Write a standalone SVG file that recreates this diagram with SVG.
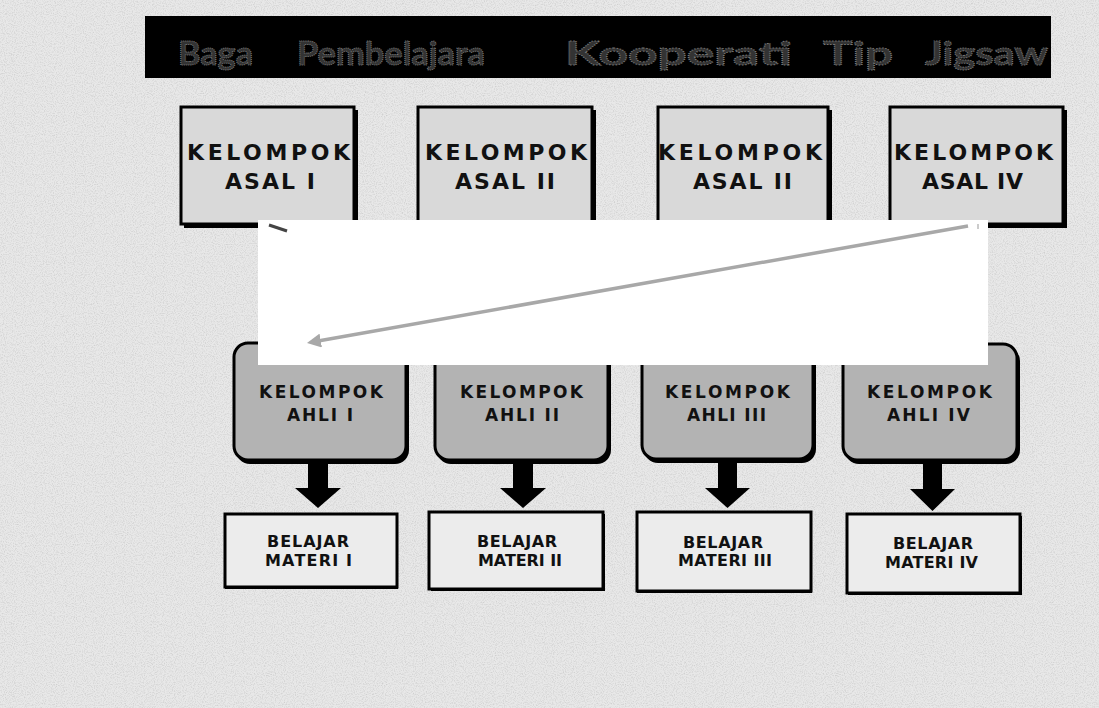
<svg xmlns="http://www.w3.org/2000/svg" width="1099" height="708" viewBox="0 0 1099 708">
<defs>
<filter id="noise" x="0" y="0" width="100%" height="100%">
<feTurbulence type="fractalNoise" baseFrequency="0.9" numOctaves="2" seed="3" result="n"/>
<feColorMatrix in="n" type="matrix" values="0 0 0 0 0.5  0 0 0 0 0.5  0 0 0 0 0.5  0 0 0 -2 1.15" result="g"/>
<feComposite in="g" in2="SourceGraphic" operator="in"/>
</filter>
<marker id="gh" viewBox="0 0 10 10" refX="2" refY="5" markerWidth="4" markerHeight="4" orient="auto-start-reverse" markerUnits="strokeWidth">
<path d="M0,0 L10,5 L0,10 z" fill="#a8a8a8"/>
</marker>
<style>
.lbl{font-family:"DejaVu Sans",Lato,sans-serif;font-weight:700;fill:#111;text-anchor:middle}
.asal{fill:#d9d9d9;stroke:#000;stroke-width:3}
.ahli{fill:#b3b3b3;stroke:#000;stroke-width:3}
.mat{fill:#ececec;stroke:#000;stroke-width:3}
.shadow{fill:#000}
.title{font-family:Lato,"DejaVu Sans",sans-serif;font-weight:700;font-size:32px;fill:#333;stroke:#777;stroke-width:1;stroke-dasharray:1 1}
</style>
</defs>
<rect width="1099" height="708" fill="#e8e8e8"/>
<rect width="1099" height="708" fill="#fff" filter="url(#noise)" opacity="0.6"/>

<g id="title">
<rect x="145" y="16" width="906" height="62" fill="#000"/>
<text class="title" x="178" y="65" textLength="75" lengthAdjust="spacingAndGlyphs">Baga</text>
<text class="title" x="297" y="65" textLength="188" lengthAdjust="spacingAndGlyphs">Pembelajara</text>
<text class="title" x="565" y="65" textLength="227" lengthAdjust="spacingAndGlyphs">Kooperati</text>
<text class="title" x="823" y="65" textLength="70" lengthAdjust="spacingAndGlyphs">Tip</text>
<text class="title" x="925" y="65" textLength="123" lengthAdjust="spacingAndGlyphs">Jigsaw</text>
</g>

<g id="asal1">
<rect class="shadow" x="184" y="110" width="174" height="118"/>
<rect class="asal" x="181" y="107" width="173" height="117"/>
<text class="lbl" font-size="22" x="268.5" y="160" textLength="163" lengthAdjust="spacing">KELOMPOK</text>
<text class="lbl" font-size="22" x="270" y="189" textLength="90" lengthAdjust="spacing">ASAL I</text>
</g>
<g id="asal2">
<rect class="shadow" x="421" y="110" width="175" height="118"/>
<rect class="asal" x="418" y="107" width="174" height="117"/>
<text class="lbl" font-size="22" x="506" y="160" textLength="162" lengthAdjust="spacing">KELOMPOK</text>
<text class="lbl" font-size="22" x="505" y="189" textLength="100" lengthAdjust="spacing">ASAL II</text>
</g>
<g id="asal3">
<rect class="shadow" x="661" y="110" width="171" height="118"/>
<rect class="asal" x="658" y="107" width="170" height="117"/>
<text class="lbl" font-size="22" x="740" y="160" textLength="164" lengthAdjust="spacing">KELOMPOK</text>
<text class="lbl" font-size="22" x="742.5" y="189" textLength="99" lengthAdjust="spacing">ASAL II</text>
</g>
<g id="asal4">
<rect class="shadow" x="893" y="110" width="174" height="118"/>
<rect class="asal" x="890" y="107" width="173" height="117"/>
<text class="lbl" font-size="22" x="973.5" y="160" textLength="159" lengthAdjust="spacing">KELOMPOK</text>
<text class="lbl" font-size="22" x="972.5" y="189" textLength="101" lengthAdjust="spacing">ASAL IV</text>
</g>

<g id="ahli1">
<rect class="shadow" x="236" y="346" width="173" height="118" rx="14"/>
<rect class="ahli" x="234" y="343" width="172" height="117" rx="14"/>
<text class="lbl" font-size="17" x="321" y="398" textLength="124" lengthAdjust="spacing">KELOMPOK</text>
<text class="lbl" font-size="17" x="320" y="421" textLength="66" lengthAdjust="spacing">AHLI I</text>
</g>
<g id="ahli2">
<rect class="shadow" x="437" y="346" width="174" height="118" rx="14"/>
<rect class="ahli" x="435" y="343" width="173" height="117" rx="14"/>
<text class="lbl" font-size="17" x="521.5" y="398" textLength="123" lengthAdjust="spacing">KELOMPOK</text>
<text class="lbl" font-size="17" x="522" y="421" textLength="74" lengthAdjust="spacing">AHLI II</text>
</g>
<g id="ahli3">
<rect class="shadow" x="644" y="346" width="172" height="117" rx="14"/>
<rect class="ahli" x="642" y="343" width="171" height="116" rx="14"/>
<text class="lbl" font-size="17" x="727.5" y="398" textLength="125" lengthAdjust="spacing">KELOMPOK</text>
<text class="lbl" font-size="17" x="726.5" y="421" textLength="79" lengthAdjust="spacing">AHLI III</text>
</g>
<g id="ahli4">
<rect class="shadow" x="845" y="347" width="175" height="117" rx="14"/>
<rect class="ahli" x="843" y="344" width="174" height="116" rx="14"/>
<text class="lbl" font-size="17" x="929.5" y="398" textLength="125" lengthAdjust="spacing">KELOMPOK</text>
<text class="lbl" font-size="17" x="928.5" y="421" textLength="83" lengthAdjust="spacing">AHLI IV</text>
</g>

<g id="materi1">
<rect class="shadow" x="225" y="516" width="173" height="73"/>
<rect class="mat" x="225" y="514" width="172" height="73"/>
<text class="lbl" font-size="16" x="308" y="547" textLength="82" lengthAdjust="spacing">BELAJAR</text>
<text class="lbl" font-size="16" x="308.5" y="566" textLength="87" lengthAdjust="spacing">MATERI I</text>
</g>
<g id="materi2">
<rect class="shadow" x="431" y="514" width="174" height="77"/>
<rect class="mat" x="429" y="512" width="174" height="77"/>
<text class="lbl" font-size="16" x="517" y="547" textLength="80" lengthAdjust="spacing">BELAJAR</text>
<text class="lbl" font-size="16" x="520" y="566" textLength="84" lengthAdjust="spacing">MATERI II</text>
</g>
<g id="materi3">
<rect class="shadow" x="637" y="514" width="175" height="79"/>
<rect class="mat" x="637" y="512" width="174" height="79"/>
<text class="lbl" font-size="16" x="723" y="548" textLength="80" lengthAdjust="spacing">BELAJAR</text>
<text class="lbl" font-size="16" x="725" y="566" textLength="94" lengthAdjust="spacing">MATERI III</text>
</g>
<g id="materi4">
<rect class="shadow" x="848" y="516" width="174" height="79"/>
<rect class="mat" x="847" y="514" width="173" height="79"/>
<text class="lbl" font-size="16" x="933" y="549" textLength="80" lengthAdjust="spacing">BELAJAR</text>
<text class="lbl" font-size="16" x="931.5" y="568" textLength="93" lengthAdjust="spacing">MATERI IV</text>
</g>

<g id="connectors">
<path d="M308,461 h20 v27 h13 l-23,20 l-23,-20 h13 z" fill="#000"/>
<path d="M513,461 h20 v27 h13 l-23,20 l-23,-20 h13 z" fill="#000"/>
<path d="M718,460 h19 v28 h13 l-22.5,20 l-22.5,-20 h13 z" fill="#000"/>
<path d="M923,461 h19 v28 h13 l-22.5,22 l-22.5,-22 h13 z" fill="#000"/>
<rect x="258" y="220" width="730" height="145" fill="#fff"/>
<line x1="269" y1="225" x2="287" y2="231" stroke="#444" stroke-width="3"/>
<line x1="968" y1="226" x2="318" y2="341" stroke="#a8a8a8" stroke-width="3.5" marker-end="url(#gh)"/>
<line x1="978" y1="224" x2="978" y2="229" stroke="#bbb" stroke-width="1.5"/>
</g>
</svg>
